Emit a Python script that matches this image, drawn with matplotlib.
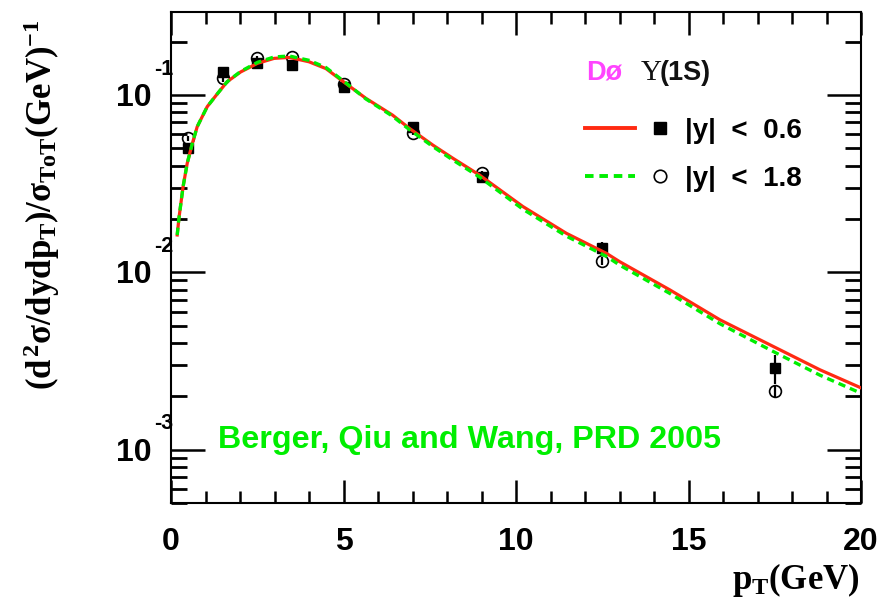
import matplotlib
matplotlib.use("Agg")
import matplotlib.pyplot as plt
from matplotlib.legend_handler import HandlerTuple
from matplotlib.lines import Line2D
from matplotlib.ticker import MultipleLocator, LogLocator, NullFormatter
from matplotlib.transforms import blended_transform_factory, offset_copy

# ---- D0 Upsilon(1S) normalised pT spectra ----
pt_bins = [0.5, 1.5, 2.5, 3.5, 5.0, 7.0, 9.0, 12.5, 17.5]
y06_vals = [0.0501, 0.135, 0.151, 0.1475, 0.111, 0.0663, 0.0347, 0.01367, 0.00288]
y06_errs = [0.002, 0.006, 0.006, 0.008, 0.004, 0.003, 0.0015, 0.0011, 0.00052]
y18_vals = [0.0570, 0.124, 0.161, 0.164, 0.116, 0.0614, 0.0362, 0.01164, 0.00213]
y18_errs = [0.002, 0.005, 0.005, 0.005, 0.004, 0.002, 0.001, 0.0006, 0.00018]

# ---- theory curves (Berger, Qiu, Wang) ----
curve_pt = [0.18, 0.23, 0.35, 0.47, 0.62, 0.76, 1.05, 1.35, 1.63, 2.02, 2.51,
            2.99, 3.43, 4.0, 4.49, 5.07, 5.65, 6.42, 6.91, 7.59, 8.17, 8.94,
            10.2, 11.46, 12.62, 13.0, 14.46, 15.91, 17.55, 18.81, 20.0]
curve_y06 = [0.01625, 0.0202, 0.0304, 0.0412, 0.0535, 0.0663, 0.0860, 0.102,
             0.119, 0.135, 0.151, 0.161, 0.163, 0.154, 0.141, 0.116, 0.0958,
             0.0771, 0.0649, 0.0522, 0.0440, 0.0354, 0.0235, 0.0166, 0.0128,
             0.0115, 0.00796, 0.00540, 0.00374, 0.00282, 0.00223]
curve_y18 = [0.01625, 0.0202, 0.0304, 0.0412, 0.0535, 0.0663, 0.0860, 0.102,
             0.119, 0.136, 0.153, 0.164, 0.166, 0.157, 0.143, 0.117, 0.0950,
             0.0760, 0.0638, 0.0512, 0.0430, 0.0345, 0.0227, 0.0160, 0.0123,
             0.0110, 0.00760, 0.00513, 0.00350, 0.00263, 0.00208]

x_ticks = [0, 5, 10, 15, 20]
y_decades = [1e-1, 1e-2, 1e-3]
y_exponents = ["-1", "-2", "-3"]

RED = "#ff2a12"
GREEN = "#00ee00"
SANS = "Liberation Sans"
SERIF = "Liberation Serif"

plt.rcParams["mathtext.fontset"] = "custom"
plt.rcParams["mathtext.rm"] = "Liberation Serif:bold"
plt.rcParams["mathtext.it"] = "Liberation Serif:bold"
plt.rcParams["mathtext.bf"] = "Liberation Serif:bold"
plt.rcParams["font.family"] = SANS

W, H = 894, 605
fig = plt.figure(figsize=(W / 100, H / 100), dpi=100)
L, R, T, B = 171, 861, 12, 503
ax = fig.add_axes([L / W, 1 - B / H, (R - L) / W, (B - T) / H])

ax.set_yscale("log")
ax.set_xlim(0, 20)
ax.set_ylim(5.0e-4, 0.294)

# data points
sq = ax.errorbar(pt_bins, y06_vals, yerr=y06_errs, fmt="s", color="black",
                 ms=7.5, elinewidth=1.6, capsize=0, zorder=3)
ci = ax.errorbar(pt_bins, y18_vals, yerr=y18_errs, fmt="o", color="black",
                 mfc="none", mec="black", mew=1.2, ms=8.5, elinewidth=1.6,
                 capsize=0, zorder=3)

# theory curves
ax.plot(curve_pt, curve_y06, color=RED, lw=2.3, zorder=4)
ax.plot(curve_pt, curve_y18, color=GREEN, lw=2.4, ls=(0, (2.2, 1.5)), zorder=5)

# axes styling (ticks inside on all four sides)
for s in ax.spines.values():
    s.set_linewidth(1.5)
ax.xaxis.set_major_locator(MultipleLocator(5))
ax.xaxis.set_minor_locator(MultipleLocator(1))
ax.yaxis.set_major_locator(LogLocator(base=10, numticks=10))
ax.yaxis.set_minor_locator(LogLocator(base=10, subs=range(2, 10), numticks=20))
ax.yaxis.set_major_formatter(NullFormatter())
ax.yaxis.set_minor_formatter(NullFormatter())
ax.tick_params(axis="both", which="both", direction="in", top=True, right=True)
ax.tick_params(axis="x", which="major", length=16.5, width=1.8)
ax.tick_params(axis="x", which="minor", length=8.5, width=1.8)
ax.tick_params(axis="y", which="major", length=24.5, width=1.8)
ax.tick_params(axis="y", which="minor", length=11.5, width=2.0)
ax.set_xticks(x_ticks)
ax.set_xticklabels([str(v) for v in x_ticks], fontsize=23, fontweight="bold",
                   family=SANS)
ax.tick_params(axis="x", which="major", pad=17)

# ROOT-style decade labels: "10" with a raised exponent
ytrans = blended_transform_factory(ax.transAxes, ax.transData)
base_tr = offset_copy(ytrans, fig=fig, x=0, y=-3, units="dots")
exp_tr = offset_copy(ytrans, fig=fig, x=0, y=26, units="dots")
for val, ex in zip(y_decades, y_exponents):
    ax.text(-19 / (R - L), val, "10", transform=base_tr, ha="right", va="center",
            fontsize=23, fontweight="bold", family=SANS)
    ax.text(-17 / (R - L), val, ex, transform=exp_tr, ha="left", va="center",
            fontsize=15.5, fontweight="bold", family=SANS)

# axis titles
fig.text(42 / W, 1 - 205 / H,
         r"$(d^{2}\sigma/dydp_{T})/\sigma_{ToT}(GeV)^{-1}$",
         rotation=90, ha="center", va="center", fontsize=25)
fig.text(860 / W, 1 - 580 / H, r"$p_{T}(GeV)$", ha="right", va="center",
         fontsize=25)

# experiment tag
tag_y = (B - 73) / (B - T)
ax.text((586 - L) / (R - L), tag_y, "Dø", transform=ax.transAxes,
        ha="left", va="center", fontsize=19.5, fontweight="bold", color="#ff44ff",
        family=SANS)
ax.text((641 - L) / (R - L), tag_y, "Υ", transform=ax.transAxes,
        ha="left", va="center", fontsize=21, color="#111111", family=SERIF)
ax.text((660 - L) / (R - L), tag_y, "(1S)", transform=ax.transAxes,
        ha="left", va="center", fontsize=19.5, fontweight="bold", color="#111111",
        family=SANS)

# legend: curve + marker per rapidity range
h_red = Line2D([], [], color=RED, lw=2.8)
h_grn = Line2D([], [], color=GREEN, lw=2.8, ls=(0, (2.2, 1.5)))
h_sq = Line2D([], [], marker="s", color="black", ls="none", ms=8)
h_ci = Line2D([], [], marker="o", color="black", mfc="none", mew=1.2, ls="none",
              ms=9)
ax.legend([(h_red, h_sq), (h_grn, h_ci)], ["|y|  <  0.6", "|y|  <  1.8"],
          handler_map={tuple: HandlerTuple(ndivide=None, pad=0)},
          loc="upper left",
          bbox_to_anchor=((585 - L) / (R - L), (B - 118) / (B - T)),
          frameon=False, borderpad=0, borderaxespad=0, handlelength=3.6,
          handletextpad=0.0, labelspacing=0.78,
          prop={"family": SANS, "weight": "bold", "size": 20})

# reference annotation
ax.text((470 - L) / (R - L), (B - 440) / (B - T),
        "Berger, Qiu and Wang, PRD 2005", transform=ax.transAxes,
        ha="center", va="center", fontsize=23.2, fontweight="bold",
        color=GREEN, family=SANS)

fig.savefig("out.png", dpi=100, facecolor="white")
